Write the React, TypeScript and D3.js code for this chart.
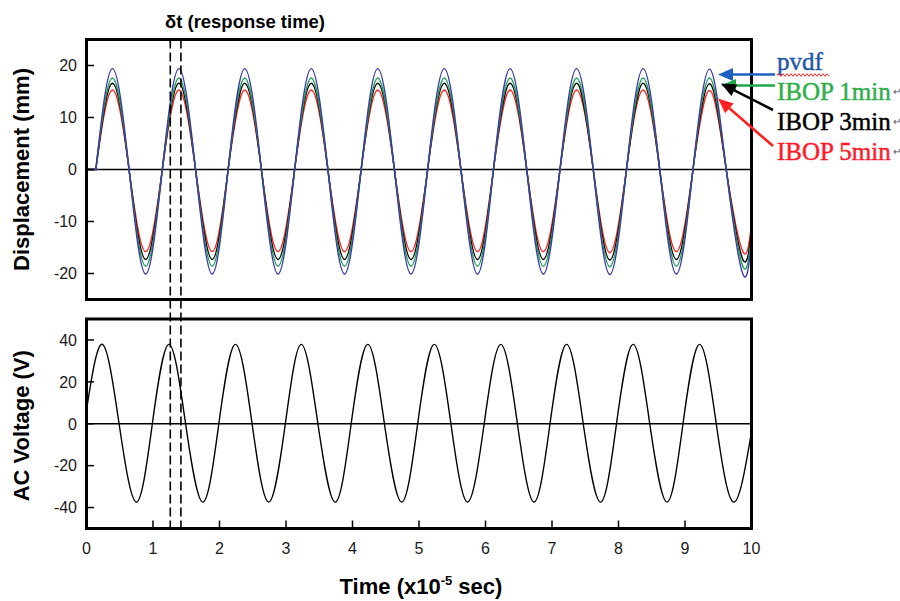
import React from "react";
import * as d3 from "d3";

const W = 900;
const H = 601;

// Axis ticks
const timeTicks = [0, 1, 2, 3, 4, 5, 6, 7, 8, 9, 10];
const displacementTicks = [-20, -10, 0, 10, 20];
const voltageTicks = [-40, -20, 0, 20, 40];

// Response-time markers (x10^-5 sec)
const responseMarks = [1.26, 1.42];

// Displacement key instants: rest, onset, then peak / zero / trough / zero of every cycle, end
const dispTime = [
  0, 0.14,
  0.39, 0.64, 0.89, 1.14,
  1.39, 1.64, 1.89, 2.13,
  2.38, 2.63, 2.88, 3.13,
  3.38, 3.63, 3.88, 4.13,
  4.38, 4.63, 4.88, 5.13,
  5.38, 5.63, 5.88, 6.12,
  6.37, 6.62, 6.87, 7.12,
  7.37, 7.62, 7.87, 8.12,
  8.37, 8.62, 8.87, 9.12,
  9.37, 9.62, 9.87, 10,
];

// Displacement (mm) peaks and troughs per cycle, and the value at t = 10
const pvdfPeaks = [19.4, 19.4, 19.4, 19.4, 19.4, 19.4, 19.4, 19.4, 19.4, 19.3];
const pvdfTroughs = [-20.1, -20.1, -20.1, -20.1, -20.1, -20.1, -20.1, -20.2, -20.1, -20.1];
const pvdfEnd = -13.6;

const ibop1Peaks = [17.6, 17.6, 17.6, 17.6, 17.6, 17.6, 17.6, 17.6, 17.6, 17.6];
const ibop1Troughs = [-18.6, -18.6, -18.6, -18.6, -18.6, -18.6, -18.6, -18.7, -18.6, -18.6];
const ibop1End = -12.6;

const ibop3Peaks = [16.6, 16.6, 16.6, 16.6, 16.6, 16.6, 16.6, 16.6, 16.6, 16.5];
const ibop3Troughs = [-17.3, -17.3, -17.3, -17.3, -17.3, -17.3, -17.3, -17.4, -17.3, -17.3];
const ibop3End = -11.7;

const ibop5Peaks = [15.3, 15.3, 15.3, 15.3, 15.3, 15.3, 15.3, 15.3, 15.3, 15.2];
const ibop5Troughs = [-15.8, -15.8, -15.8, -15.8, -15.8, -15.8, -15.8, -16.0, -15.8, -15.8];
const ibop5End = -10.7;

const seriesNames = ["pvdf", "IBOP 1min", "IBOP 3min", "IBOP 5min"];

// AC voltage key instants: start, then peak / zero / trough / zero of every cycle, end
const voltTime = [
  0,
  0.24, 0.49, 0.75, 0.99,
  1.24, 1.49, 1.75, 1.99,
  2.24, 2.49, 2.74, 2.99,
  3.23, 3.48, 3.74, 3.98,
  4.23, 4.48, 4.74, 4.98,
  5.23, 5.48, 5.73, 5.98,
  6.23, 6.48, 6.73, 6.97,
  7.22, 7.47, 7.73, 7.97,
  8.22, 8.47, 8.73, 8.97,
  9.22, 9.47, 9.73, 10,
];
const voltStart = 6.5;
const voltPeaks = [37.9, 37.9, 37.9, 37.9, 37.9, 37.9, 37.9, 37.9, 37.9, 37.9];
const voltTroughs = [-37.4, -37.4, -37.4, -37.4, -37.4, -37.4, -37.4, -37.4, -37.4, -37.4];
const voltEnd = -4;

type Pt = [number, number];

function displacementPoints(peaks: number[], troughs: number[], end: number): Pt[] {
  const v: number[] = [0, 0];
  peaks.forEach((p, k) => {
    v.push(p, 0, troughs[k]);
    if (k < peaks.length - 1) v.push(0);
  });
  v.push(end);
  return dispTime.map((t, i) => [t, v[i]] as Pt);
}

function voltagePoints(): Pt[] {
  const v: number[] = [voltStart];
  voltPeaks.forEach((p, k) => {
    v.push(p, 0, voltTroughs[k]);
    if (k < voltPeaks.length - 1) v.push(0);
  });
  v.push(voltEnd);
  return voltTime.map((t, i) => [t, v[i]] as Pt);
}

// Layout
const X0 = 86.5;
const X1 = 751.5;
const TOP = { y0: 39.5, y1: 299.5 };
const BOT = { y0: 319, y1: 528.5 };

const x = d3.scaleLinear().domain([0, 10]).range([X0, X1]);
const yTop = d3.scaleLinear().domain([-25, 25]).range([TOP.y1, TOP.y0]);
const yBot = d3.scaleLinear().domain([-50, 50]).range([BOT.y1, BOT.y0]);

const sans = "'Liberation Sans', Arial, Helvetica, sans-serif";
const serif = "'Liberation Serif', 'Times New Roman', serif";

const curveColors = ["#3b3bab", "#1f9f55", "#000000", "#ff2020"];
const legendColors = ["#1f58a8", "#2eae4a", "#000000", "#ff1a2a"];
const arrowColors = ["#1f5fc0", "#1fa84a", "#000000", "#ff2020"];

function dispPath(points: Pt[]): string {
  // flat rest segment before onset, then a smooth response curve
  const line = d3
    .line<Pt>()
    .x((d) => x(d[0]))
    .y((d) => yTop(d[1]))
    .curve(d3.curveNatural);
  const smooth = line(points.slice(1)) || "";
  return `M${x(points[0][0])},${yTop(points[0][1])}L` + smooth.slice(1);
}

function Arrow({ x1, y1, x2, y2, color }: { x1: number; y1: number; x2: number; y2: number; color: string }) {
  const ang = Math.atan2(y2 - y1, x2 - x1);
  const len = 15;
  const hw = 6.5;
  const bx = x2 - len * Math.cos(ang);
  const by = y2 - len * Math.sin(ang);
  const px = -Math.sin(ang) * hw;
  const py = Math.cos(ang) * hw;
  return (
    <g>
      <line x1={x1} y1={y1} x2={bx} y2={by} stroke={color} strokeWidth={2.6} />
      <polygon points={`${x2},${y2} ${bx + px},${by + py} ${bx - px},${by - py}`} fill={color} />
    </g>
  );
}

function squiggle(xs: number, xe: number, yc: number): string {
  let d = `M${xs},${yc}`;
  let up = true;
  for (let xx = xs + 2; xx <= xe; xx += 2) {
    d += `L${xx},${yc + (up ? -1.3 : 1.3)}`;
    up = !up;
  }
  return d;
}

export default function App() {
  const series = [
    displacementPoints(pvdfPeaks, pvdfTroughs, pvdfEnd),
    displacementPoints(ibop1Peaks, ibop1Troughs, ibop1End),
    displacementPoints(ibop3Peaks, ibop3Troughs, ibop3End),
    displacementPoints(ibop5Peaks, ibop5Troughs, ibop5End),
  ];
  const drawOrder = [3, 2, 1, 0];

  const voltLine = d3
    .line<Pt>()
    .x((d) => x(d[0]))
    .y((d) => yBot(d[1]))
    .curve(d3.curveNatural);

  const legendBaselines = [70, 100, 130, 160];
  const arrows = [
    { x1: 775, y1: 74.5, x2: 718, y2: 74.5 },
    { x1: 775, y1: 85.5, x2: 721, y2: 85.5 },
    { x1: 773, y1: 110, x2: 721, y2: 83.5 },
    { x1: 773, y1: 146, x2: 718, y2: 98.5 },
  ];

  return (
    <svg
      width={W}
      height={H}
      viewBox={`0 0 ${W} ${H}`}
      style={{ position: "absolute", left: 0, top: 0, display: "block", background: "#fff" }}
    >
      <rect x={0} y={0} width={W} height={H} fill="#fff" />

      <defs>
        <clipPath id="clipTop">
          <rect x={X0} y={TOP.y0} width={X1 - X0} height={TOP.y1 - TOP.y0} />
        </clipPath>
        <clipPath id="clipBot">
          <rect x={X0} y={BOT.y0} width={X1 - X0} height={BOT.y1 - BOT.y0} />
        </clipPath>
      </defs>

      {/* Top panel: displacement */}
      <line x1={X0} x2={X1} y1={yTop(0)} y2={yTop(0)} stroke="#000" strokeWidth={1.5} />
      <g clipPath="url(#clipTop)">
        {drawOrder.map((i) => (
          <path key={i} d={dispPath(series[i])} fill="none" stroke={curveColors[i]} strokeWidth={1.4} />
        ))}
      </g>
      {displacementTicks.map((t) => (
        <g key={t}>
          <line x1={X0} x2={X0 + 7.5} y1={yTop(t)} y2={yTop(t)} stroke="#000" strokeWidth={1.5} />
          <text x={77} y={yTop(t)} dy="0.36em" textAnchor="end" fontFamily={sans} fontSize={16} fill="#1a1a1a">
            {t}
          </text>
        </g>
      ))}
      <rect x={X0} y={TOP.y0} width={X1 - X0} height={TOP.y1 - TOP.y0} fill="none" stroke="#000" strokeWidth={3} />

      {/* Bottom panel: AC voltage */}
      <line x1={X0} x2={X1} y1={yBot(0)} y2={yBot(0)} stroke="#000" strokeWidth={1.5} />
      <g clipPath="url(#clipBot)">
        <path d={voltLine(voltagePoints()) || ""} fill="none" stroke="#000" strokeWidth={1.4} />
      </g>
      {voltageTicks.map((t) => (
        <g key={t}>
          <line x1={X0} x2={X0 + 7.5} y1={yBot(t)} y2={yBot(t)} stroke="#000" strokeWidth={1.5} />
          <text x={77} y={yBot(t)} dy="0.36em" textAnchor="end" fontFamily={sans} fontSize={16} fill="#1a1a1a">
            {t}
          </text>
        </g>
      ))}
      {timeTicks.map((t) => (
        <g key={t}>
          <line x1={x(t)} x2={x(t)} y1={BOT.y1} y2={BOT.y1 - 8} stroke="#000" strokeWidth={1.5} />
          <text x={x(t)} y={554} textAnchor="middle" fontFamily={sans} fontSize={16} fill="#1a1a1a">
            {t}
          </text>
        </g>
      ))}
      <rect x={X0} y={BOT.y0} width={X1 - X0} height={BOT.y1 - BOT.y0} fill="none" stroke="#000" strokeWidth={3} />

      {/* Response time markers */}
      {responseMarks.map((t) => (
        <line
          key={t}
          x1={x(t)}
          x2={x(t)}
          y1={TOP.y0}
          y2={BOT.y1}
          stroke="#000"
          strokeWidth={1.6}
          strokeDasharray="9,4"
        />
      ))}
      <text x={165} y={28} fontFamily={sans} fontWeight="bold" fontSize={18} textLength={160} lengthAdjust="spacingAndGlyphs" fill="#000">
        δt (response time)
      </text>

      {/* Axis titles */}
      <text
        transform={`translate(28.5,${(TOP.y0 + TOP.y1) / 2}) rotate(-90)`}
        textAnchor="middle"
        fontFamily={sans}
        fontWeight="bold"
        fontSize={22}
        fill="#000"
      >
        Displacement (mm)
      </text>
      <text
        transform={`translate(28.5,${(BOT.y0 + BOT.y1) / 2 + 2}) rotate(-90)`}
        textAnchor="middle"
        fontFamily={sans}
        fontWeight="bold"
        fontSize={22}
        fill="#000"
      >
        AC Voltage (V)
      </text>
      <text x={(X0 + X1) / 2 + 2} y={594} textAnchor="middle" fontFamily={sans} fontWeight="bold" fontSize={22} fill="#000">
        Time (x10
        <tspan fontSize={13} dy={-9}>-5</tspan>
        <tspan dy={9}> sec)</tspan>
      </text>

      {/* Legend with pointer arrows */}
      {arrows.map((a, i) => (
        <Arrow key={i} {...a} color={arrowColors[i]} />
      ))}
      {seriesNames.map((name, i) => (
        <g key={name}>
          <text
            x={777}
            y={legendBaselines[i]}
            fontFamily={serif}
            fontSize={25}
            fill={legendColors[i]}
            stroke={legendColors[i]}
            strokeWidth={0.45}
          >
            {name}
          </text>
          {i > 0 && (
            <text x={893} y={legendBaselines[i] - 5} fontFamily={sans} fontSize={10} fill="#555">
              ↵
            </text>
          )}
        </g>
      ))}
      <path d={squiggle(777, 829, 75)} fill="none" stroke="#ff2020" strokeWidth={1} />
    </svg>
  );
}
